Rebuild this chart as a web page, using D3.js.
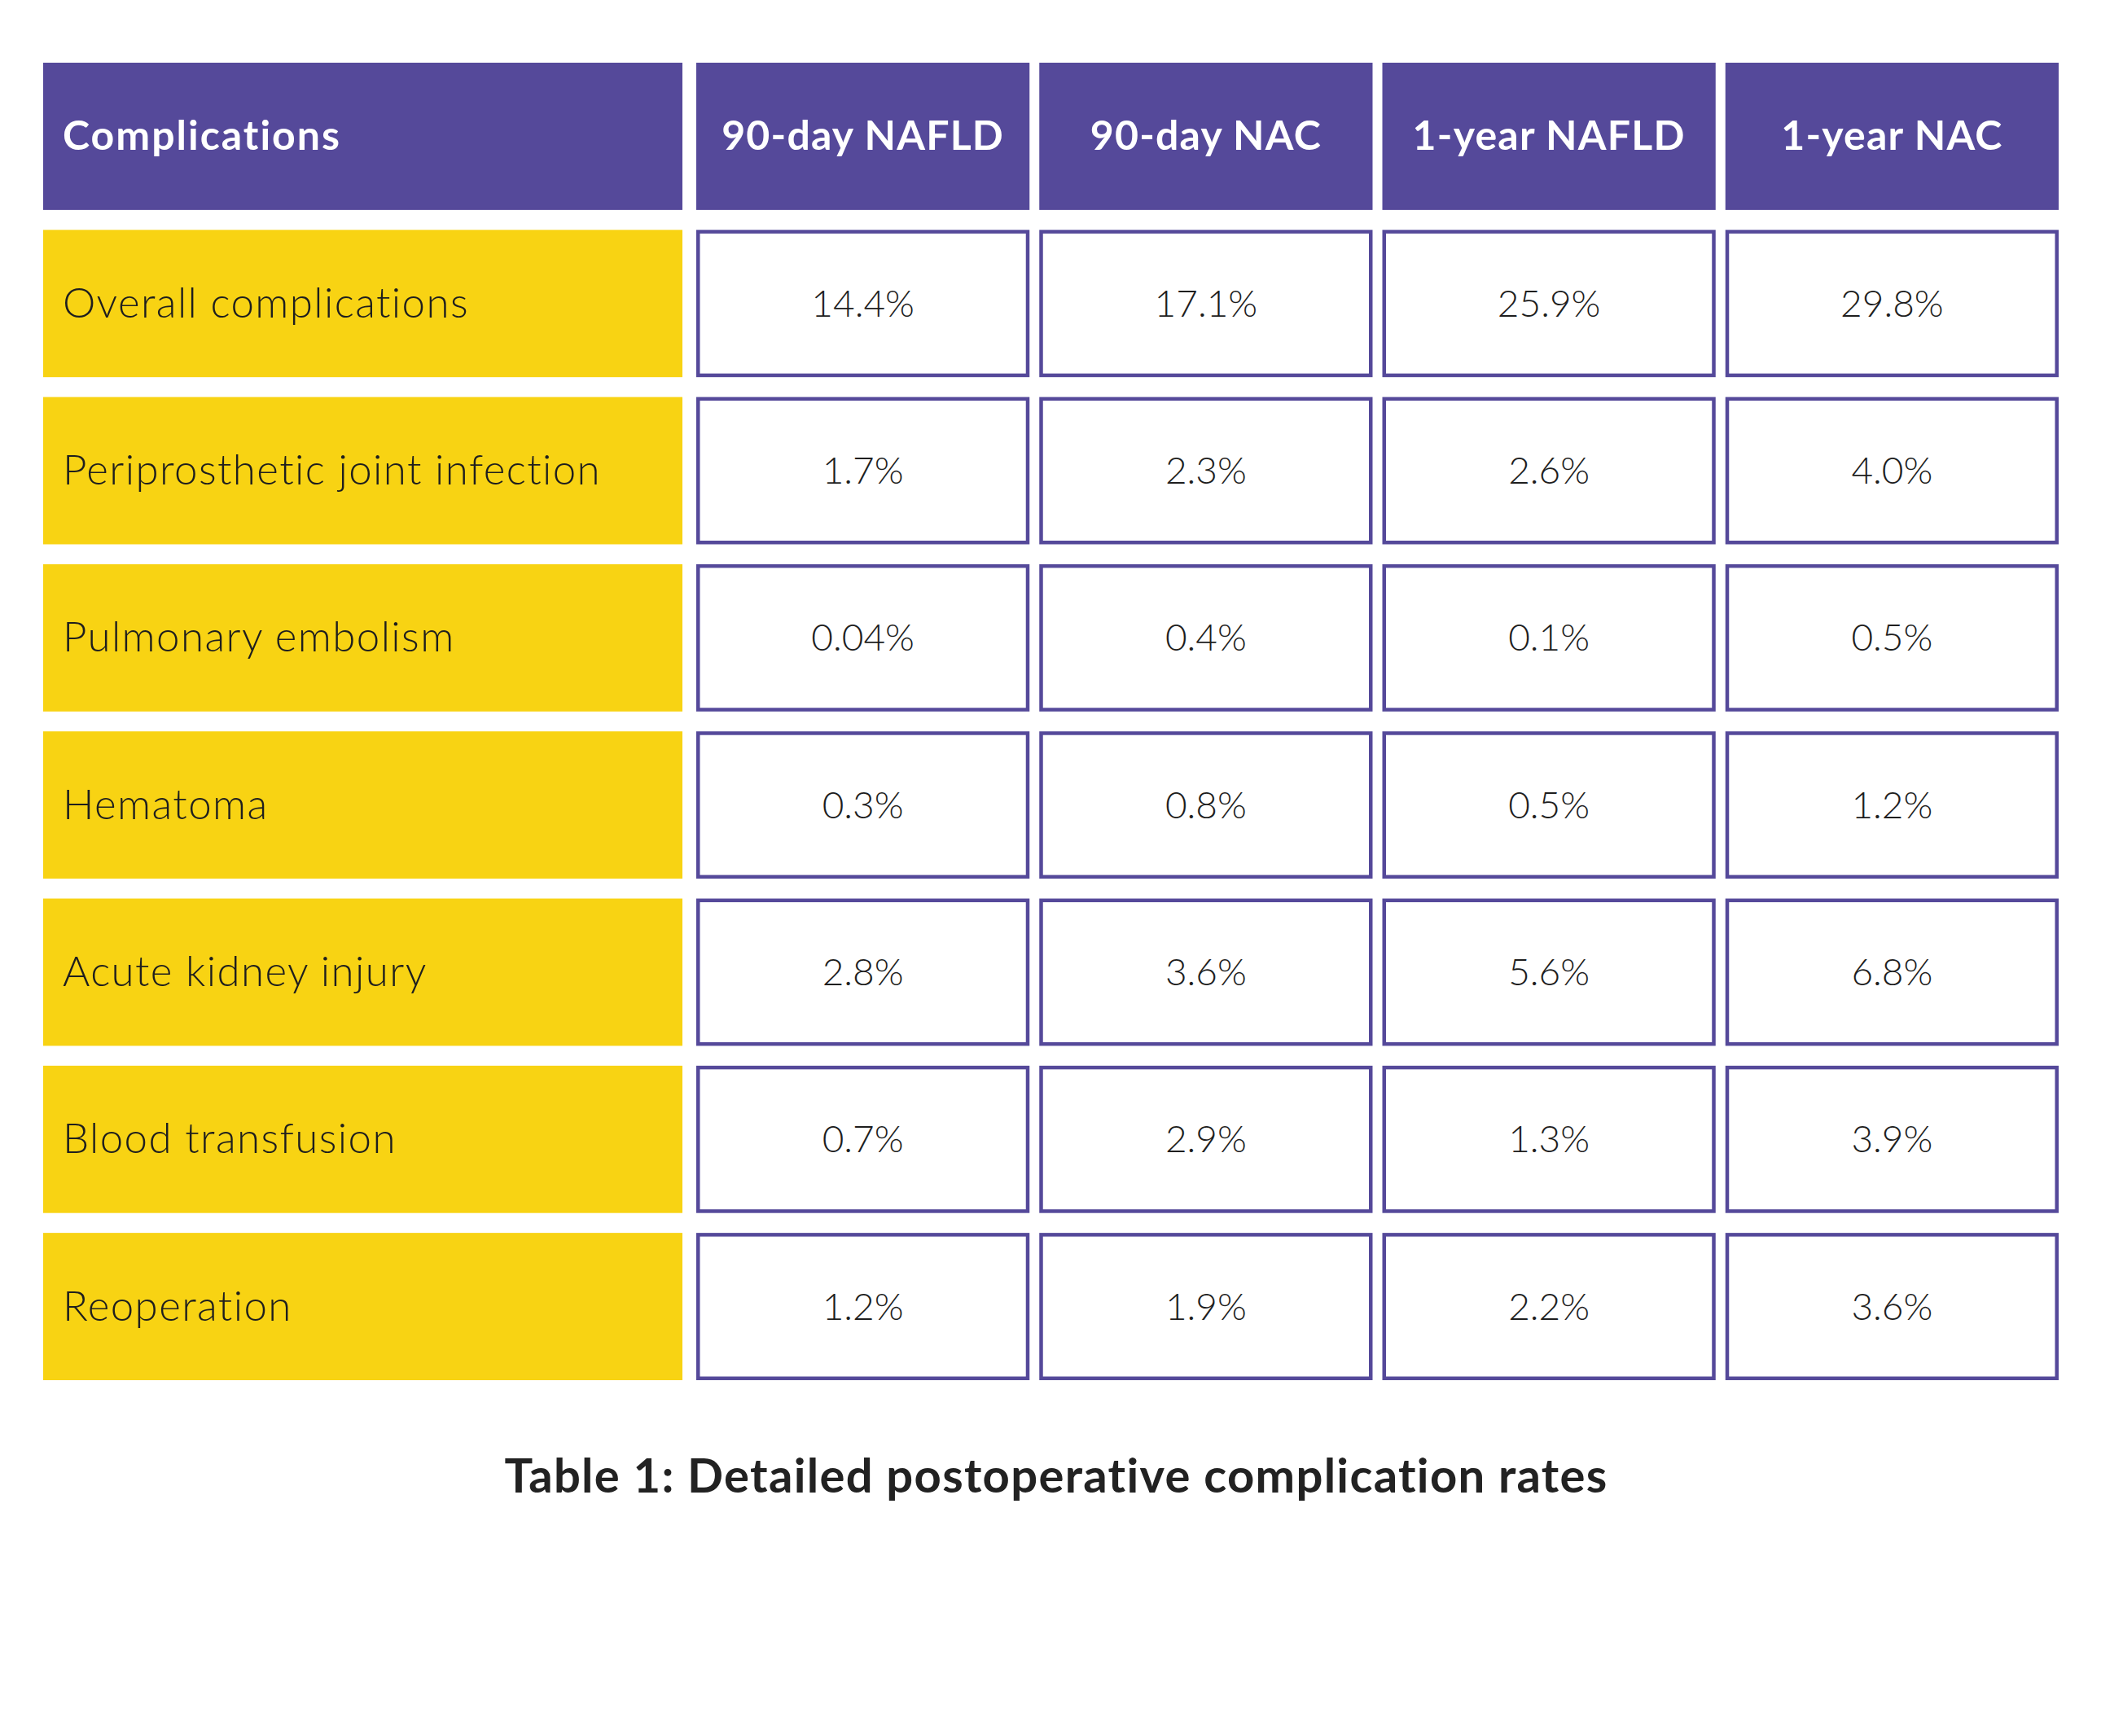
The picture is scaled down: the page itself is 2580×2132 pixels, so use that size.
<!DOCTYPE html>
<html>
<head>
<meta charset="utf-8">
<script src="https://cdn.jsdelivr.net/npm/d3@7/dist/d3.min.js"></script>
<style>
  html, body { margin: 0; padding: 0; background: #ffffff; }
  svg { display: block; }
</style>
</head>
<body>
<script>
// ---- data ----
const headerFirst = "Complications";
const columns = ["90-day NAFLD", "90-day NAC", "1-year NAFLD", "1-year NAC"];
const categories = [
  "Overall complications",
  "Periprosthetic joint infection",
  "Pulmonary embolism",
  "Hematoma",
  "Acute kidney injury",
  "Blood transfusion",
  "Reoperation"
];
const nafld90 = [14.4, 1.7, 0.04, 0.3, 2.8, 0.7, 1.2];
const nac90   = [17.1, 2.3, 0.4, 0.8, 3.6, 2.9, 1.9];
const nafld1y = [25.9, 2.6, 0.1, 0.5, 5.6, 1.3, 2.2];
const nac1y   = [29.8, 4.0, 0.5, 1.2, 6.8, 3.9, 3.6];
const title = "Table 1: Detailed postoperative complication rates";

const series = [nafld90, nac90, nafld1y, nac1y];

// ---- layout ----
const W = 2580, H = 2132;
const purple = "#55499a";
const yellow = "#f8d313";
const textDark = "#1e1e1e";
const font = "Lato, 'Open Sans', 'DejaVu Sans', sans-serif";

const svg = d3.select("body").append("svg")
  .attr("width", W).attr("height", H)
  .attr("viewBox", `0 0 ${W} ${H}`);

svg.append("rect").attr("width", W).attr("height", H).attr("fill", "#fff");

const rowKeys = ["__header__"].concat(categories);
const y = d3.scaleBand().domain(rowKeys).range([77, 1695]).paddingInner(0.119);
const x = d3.scaleBand().domain(columns).range([855, 2528]).paddingInner(0.0285);
const firstX = 53, firstW = 785;

const fmt = v => (v < 0.1 ? v.toFixed(2) : v.toFixed(1)) + "%";

// header row
const hy = y("__header__"), bh = y.bandwidth();
svg.append("rect").attr("x", firstX).attr("y", hy).attr("width", firstW).attr("height", bh).attr("fill", purple);
svg.append("text").attr("x", firstX + 24).attr("y", hy + bh / 2 + 17)
  .attr("font-family", font).attr("font-weight", 700).attr("font-size", 50)
  .attr("letter-spacing", 2).attr("fill", "#fff").text(headerFirst);

svg.selectAll("rect.hcol").data(columns).join("rect").attr("class", "hcol")
  .attr("x", d => x(d)).attr("y", hy).attr("width", x.bandwidth()).attr("height", bh)
  .attr("fill", purple);
svg.selectAll("text.hcol").data(columns).join("text").attr("class", "hcol")
  .attr("x", d => x(d) + x.bandwidth() / 2).attr("y", hy + bh / 2 + 17)
  .attr("text-anchor", "middle")
  .attr("font-family", font).attr("font-weight", 700).attr("font-size", 50)
  .attr("letter-spacing", 1.2).attr("fill", "#fff").text(d => d);

// category column
svg.selectAll("rect.cat").data(categories).join("rect").attr("class", "cat")
  .attr("x", firstX).attr("y", d => y(d)).attr("width", firstW).attr("height", bh)
  .attr("fill", yellow);
svg.selectAll("text.cat").data(categories).join("text").attr("class", "cat")
  .attr("x", firstX + 24).attr("y", d => y(d) + bh / 2 + 17)
  .attr("font-family", font).attr("font-weight", 300).attr("font-size", 51)
  .attr("letter-spacing", 1.4).attr("fill", textDark).text(d => d);

// value cells
const sw = 4.5;
const cells = [];
categories.forEach((c, i) => {
  columns.forEach((col, j) => cells.push({ c, col, v: series[j][i] }));
});
svg.selectAll("rect.cell").data(cells).join("rect").attr("class", "cell")
  .attr("x", d => x(d.col) + sw / 2).attr("y", d => y(d.c) + sw / 2)
  .attr("width", x.bandwidth() - sw).attr("height", bh - sw)
  .attr("fill", "#fff").attr("stroke", purple).attr("stroke-width", sw);
svg.selectAll("text.cell").data(cells).join("text").attr("class", "cell")
  .attr("x", d => x(d.col) + x.bandwidth() / 2).attr("y", d => y(d.c) + bh / 2 + 16)
  .attr("text-anchor", "middle")
  .attr("font-family", font).attr("font-weight", 300).attr("font-size", 46)
  .attr("fill", textDark).text(d => fmt(d.v));

// title
svg.append("text").attr("x", 1297).attr("y", 1833)
  .attr("text-anchor", "middle")
  .attr("font-family", font).attr("font-weight", 700).attr("font-size", 58)
  .attr("letter-spacing", 1.3).attr("fill", "#222").text(title);
</script>
</body>
</html>
